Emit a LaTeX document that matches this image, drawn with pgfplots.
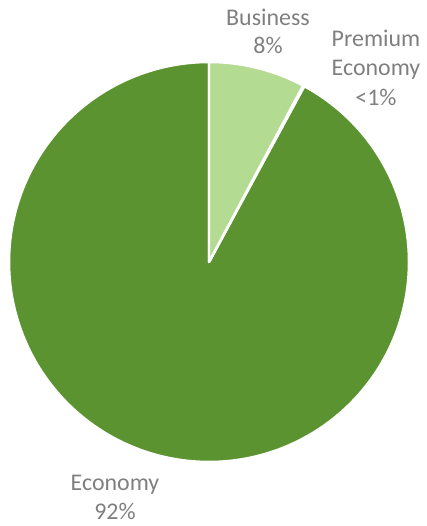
\documentclass[border=0pt]{standalone}
\usepackage{fontspec}
\setmainfont{Carlito}
\usepackage{pgfplots}
\usepackage{pgfplotstable}
\pgfplotsset{compat=1.18}
\definecolor{econ}{HTML}{5B9331}
\definecolor{bus}{HTML}{B3DB91}
\definecolor{txt}{HTML}{7F7F7F}
\pgfplotstableread{
label value
Business 7.8
Premium 0.1
Economy 92.1
}\piedata
\begin{document}
\begin{tikzpicture}
\pgfplotstablegetelem{0}{value}\of\piedata \let\vB\pgfplotsretval
\pgfplotstablegetelem{1}{value}\of\piedata \let\vP\pgfplotsretval
\pgfplotstablegetelem{2}{value}\of\piedata \let\vE\pgfplotsretval
\pgfmathsetmacro\aA{90}
\pgfmathsetmacro\aB{\aA-3.6*\vB}
\pgfmathsetmacro\aC{\aB-3.6*\vP}
\pgfmathsetmacro\aD{\aC-3.6*\vE}
\begin{axis}[
  width=427bp, height=526bp, scale only axis,
  xmin=0, xmax=427, ymin=0, ymax=526,
  hide axis, clip=false,
]
\coordinate (LL) at (axis cs:0,0);
\coordinate (UR) at (axis cs:427,526);
\addplot[fill=econ, draw=white, line width=2.5pt, line join=round, domain=\aD:\aC, samples=200, variable=\t]
  ({209+200*cos(\t)},{264+200*sin(\t)}) -- (axis cs:209,264) -- cycle;
\addplot[fill=econ, draw=white, line width=2.5pt, line join=round, domain=\aC:\aB, samples=3, variable=\t]
  ({209+200*cos(\t)},{264+200*sin(\t)}) -- (axis cs:209,264) -- cycle;
\addplot[fill=bus, draw=white, line width=2.5pt, line join=round, domain=\aB:\aA, samples=40, variable=\t]
  ({209+200*cos(\t)},{264+200*sin(\t)}) -- (axis cs:209,264) -- cycle;
\node[text=txt, align=center, font=\fontsize{24}{28}\selectfont] at (axis cs:268,494.5) {Business\\8\%};
\node[text=txt, align=center, font=\fontsize{24}{29.5}\selectfont] at (axis cs:376,458.5) {Premium\\Economy\\<1\%};
\node[text=txt, align=center, font=\fontsize{24}{29}\selectfont] at (axis cs:115,28.5) {Economy\\92\%};
\end{axis}
\pgfresetboundingbox
\useasboundingbox (LL) rectangle (UR);
\end{tikzpicture}
\end{document}
